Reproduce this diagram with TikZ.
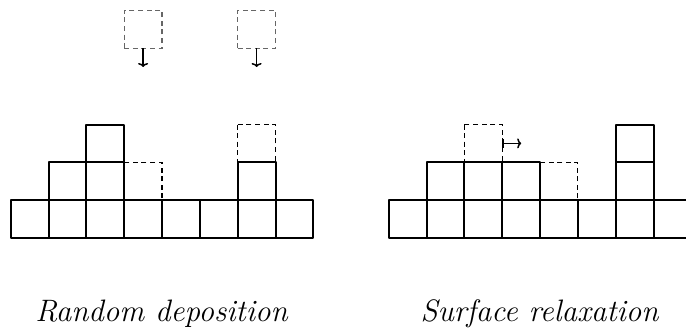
\documentclass[tikz,border=0pt]{standalone}
\usetikzlibrary{arrows.meta}
\begin{document}
\begin{tikzpicture}[x=1pt,y=-1pt,
  cell/.style={draw=black,line width=2pt,line join=round},
  ghost/.style={draw=black,line width=1.2pt,dash pattern=on 5pt off 3.6pt},
  faller/.style={draw=black!60,line width=1.3pt,dash pattern=on 5pt off 3.6pt,
    minimum width=37.8pt,minimum height=37.8pt,inner sep=0pt,outer sep=0pt},
  move/.style={line width=1.5pt,black},
  tip/.tip={To[length=4pt,width=10pt,line width=1.5pt]},
  caption/.style={font=\fontsize{31}{36}\selectfont\itshape,anchor=base,inner sep=0pt}]
\useasboundingbox (0,0) rectangle (686,327);
\clip (0,0) rectangle (686,327);
\def\s{37.83}
% ---------- left: random deposition ----------
\begin{scope}[shift={(10.7,0)}]
  % ghost cells
  \draw[ghost] (3*\s,162.3) rectangle (4*\s,200.1);
  \draw[ghost] (6*\s,124.5) rectangle (7*\s,162.3);
  % bottom row
  \foreach \i in {0,...,7} \draw[cell] (\i*\s,200.1) rectangle ({(\i+1)*\s},237.9);
  % second row
  \foreach \i in {1,2,6} \draw[cell] (\i*\s,162.3) rectangle ({(\i+1)*\s},200.1);
  % third row
  \draw[cell] (2*\s,124.5) rectangle (3*\s,162.3);
  % falling particles
  \node[faller] (fa) at (3.5*\s,29.3) {};
  \node[faller] (fb) at (6.5*\s,29.3) {};
  \coordinate (ta) at (3.5*\s,67);
  \coordinate (tb) at (6.5*\s,67);
  \draw[move,-tip] (fa.south) -- (ta);
  \draw[move,-tip] (fb.south) -- (tb);
\end{scope}
% ---------- right: surface relaxation ----------
\begin{scope}[shift={(388.7,0)}]
  \draw[ghost] (2*\s,124.5) rectangle (3*\s,162.3);
  \draw[ghost] (4*\s,162.3) rectangle (5*\s,200.1);
  \foreach \i in {0,...,7} \draw[cell] (\i*\s,200.1) rectangle ({(\i+1)*\s},237.9);
  \foreach \i in {1,2,3,6} \draw[cell] (\i*\s,162.3) rectangle ({(\i+1)*\s},200.1);
  \draw[cell] (6*\s,124.5) rectangle (7*\s,162.3);
  \coordinate (sa) at (3*\s,143.4);
  \coordinate (sb) at (3*\s+19,143.4);
  \draw[move,{Bar[width=9pt,line width=1.5pt]}-tip] (sa) -- (sb);
\end{scope}
\node[caption] (capa) at (161.5,321.5) {Random deposition};
\node[caption] (capb) at (539.5,321.5) {Surface relaxation};
\end{tikzpicture}
\end{document}
